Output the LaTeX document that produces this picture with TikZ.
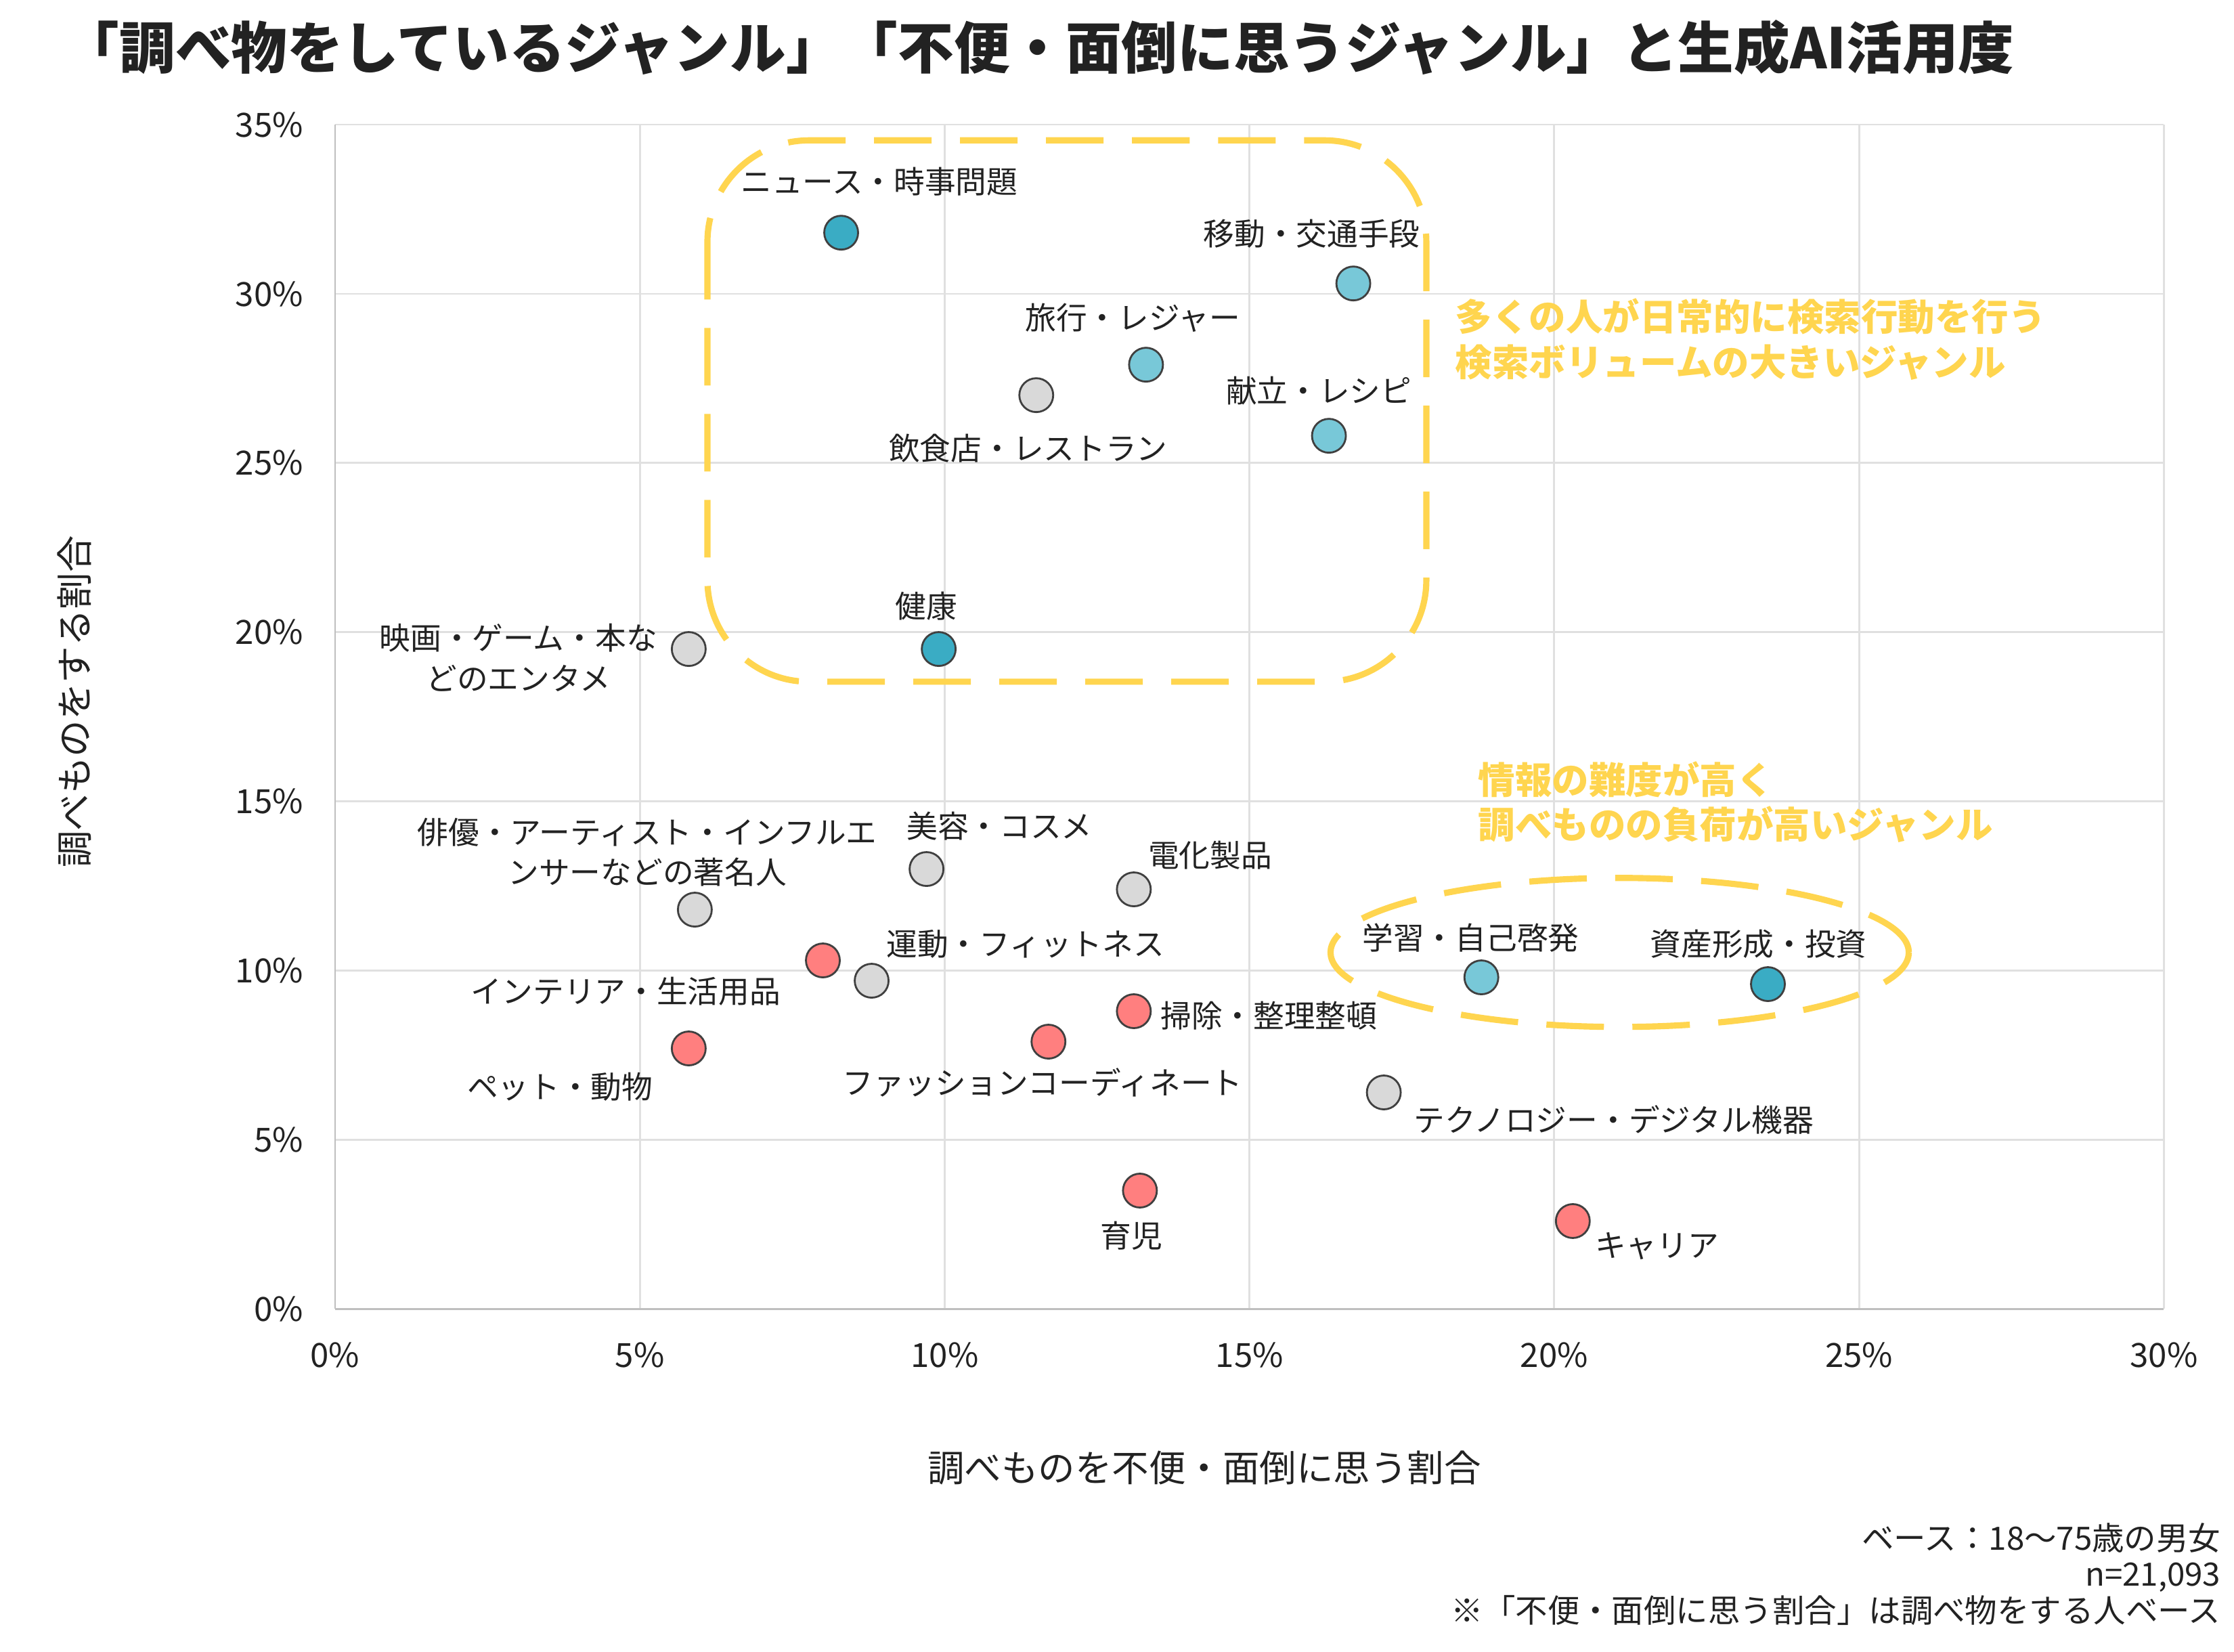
\documentclass[tikz,border=0pt]{standalone}
\usepackage{fontspec}
\setmainfont{Noto Sans CJK JP}
\definecolor{dteal}{HTML}{3AACC4}
\definecolor{lteal}{HTML}{78C8D8}
\definecolor{gr}{HTML}{D9D9D9}
\definecolor{rd}{HTML}{FF7F7F}
\definecolor{ylw}{HTML}{FFD54F}
\definecolor{txt}{HTML}{222222}
\begin{document}
\begin{tikzpicture}[x=0.02115cm,y=-0.02115cm,
  pt/.style={circle,draw=black!75,line width=0.8pt,minimum size=0.5cm,inner sep=0},
  lab/.style={font=\fontsize{13}{17}\selectfont,text=txt,align=center,inner sep=0},
  tick/.style={font=\fontsize{14}{16}\selectfont,text=txt,inner sep=0},
  ann/.style={font=\fontsize{15.5}{19}\selectfont\bfseries,text=ylw,align=left,anchor=west,inner sep=0},
  yd/.style={draw=ylw,line width=2.6pt,dash pattern=on 0.85cm off 0.42cm}]
\useasboundingbox (0,0) rectangle (1560,1153);
% grid
\foreach \i in {0,...,6}{\draw[black!12,line width=0.8pt] ({234+\i*212.83},87) -- ({234+\i*212.83},914);
  \pgfmathtruncatemacro\v{\i*5}\node[tick] (xt\i) at ({234+\i*212.83},946) {\v\%};}
\foreach \i in {0,...,7}{\draw[black!12,line width=0.8pt] (234,{914-\i*118.14}) -- (1511,{914-\i*118.14});
  \pgfmathtruncatemacro\v{\i*5}\node[tick,anchor=east] (yt\i) at (212,{914-\i*118.14}) {\v\%};}
\draw[black!25,line width=0.8pt] (234,914) -- (1511,914) (234,87) -- (234,914);
% data points
\begin{scope}[shift={(234,914)},x=0.9004cm,y=0.4998cm]
\node[pt,fill=dteal] (news) at (8.3,31.8) {};
\node[pt,fill=lteal] (move) at (16.7,30.3) {};
\node[pt,fill=lteal] (trav) at (13.3,27.9) {};
\node[pt,fill=gr] (rest) at (11.5,27.0) {};
\node[pt,fill=lteal] (reci) at (16.3,25.8) {};
\node[pt,fill=dteal] (heal) at (9.9,19.5) {};
\node[pt,fill=gr] (movi) at (5.8,19.5) {};
\node[pt,fill=gr] (acto) at (5.9,11.8) {};
\node[pt,fill=gr] (beau) at (9.7,13.0) {};
\node[pt,fill=gr] (elec) at (13.1,12.4) {};
\node[pt,fill=rd] (inte) at (8.0,10.3) {};
\node[pt,fill=gr] (fitn) at (8.8,9.7) {};
\node[pt,fill=rd] (clea) at (13.1,8.8) {};
\node[pt,fill=rd] (pet) at (5.8,7.7) {};
\node[pt,fill=rd] (fash) at (11.7,7.9) {};
\node[pt,fill=gr] (tech) at (17.2,6.4) {};
\node[pt,fill=rd] (chil) at (13.2,3.5) {};
\node[pt,fill=rd] (care) at (20.3,2.6) {};
\node[pt,fill=lteal] (stud) at (18.8,9.8) {};
\node[pt,fill=dteal] (asse) at (23.5,9.6) {};
\end{scope}
% labels
\node[lab] (lnews) at (614,127) {ニュース・時事問題};
\node[lab] (lmove) at (916,163) {移動・交通手段};
\node[lab] (ltrav) at (791,222) {旅行・レジャー};
\node[lab] (lrest) at (718,313) {飲食店・レストラン};
\node[lab] (lreci) at (921,273) {献立・レシピ};
\node[lab] (lheal) at (647,423) {健康};
\node[lab] (lmovi) at (362,459) {映画・ゲーム・本な\\どのエンタメ};
\node[lab] (lacto) at (452,595) {俳優・アーティスト・インフルエ\\ンサーなどの著名人};
\node[lab] (lbeau) at (698,577) {美容・コスメ};
\node[lab] (lelec) at (845,597) {電化製品};
\node[lab] (lfitn) at (716,659) {運動・フィットネス};
\node[lab] (linte) at (437,692) {インテリア・生活用品};
\node[lab] (lclea) at (886,709) {掃除・整理整頓};
\node[lab] (lpet) at (391,759) {ペット・動物};
\node[lab] (lfash) at (728,756) {ファッションコーディネート};
\node[lab] (ltech) at (1127,782) {テクノロジー・デジタル機器};
\node[lab] (lchil) at (790,863) {育児};
\node[lab] (lcare) at (1157,870) {キャリア};
\node[lab] (lstud) at (1027,655) {学習・自己啓発};
\node[lab] (lasse) at (1228,659) {資産形成・投資};
% highlights
\draw[yd,rounded corners=1.5cm] (494,98) rectangle (996,476);
\draw[yd] (1131,665) ellipse [x radius=4.27cm,y radius=1.1cm];
\node[ann] (a1) at (1016,237) {多くの人が日常的に検索行動を行う\\検索ボリュームの大きいジャンル};
\node[ann] (a2) at (1032,560) {情報の難度が高く\\調べものの負荷が高いジャンル};
% titles
\node[font=\fontsize{23.5}{27}\selectfont\bfseries,text=txt,anchor=west,inner sep=0] (title) at (44,33) {「調べ物をしているジャンル」「不便・面倒に思うジャンル」と生成AI活用度};
\node[font=\fontsize{15.5}{18}\selectfont,text=txt,inner sep=0] (xlab) at (841,1025) {調べものを不便・面倒に思う割合};
\node[font=\fontsize{15.5}{18}\selectfont,text=txt,inner sep=0,rotate=90] (ylab) at (52,490) {調べものをする割合};
\node[font=\fontsize{13.5}{15.2}\selectfont,text=txt,align=right,anchor=north east,inner sep=0] (note) at (1551,1063) {ベース：18〜75歳の男女\\n=21,093\\※「不便・面倒に思う割合」は調べ物をする人ベース};
\end{tikzpicture}
\end{document}
